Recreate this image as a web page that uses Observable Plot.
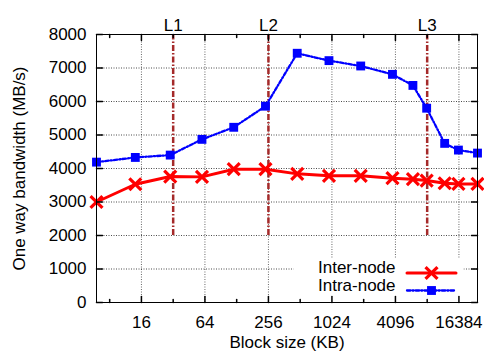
<!DOCTYPE html>
<html><head><meta charset="utf-8">
<script src="https://cdn.jsdelivr.net/npm/d3@7"></script>
<script src="https://cdn.jsdelivr.net/npm/@observablehq/plot@0.6"></script>
<style>html,body{margin:0;padding:0;background:#fff} svg{display:block}</style>
</head><body><div id="chart"></div>
<script>
const blockSizes = [6, 14, 30, 60, 120, 240, 480, 960, 1920, 3840, 6000, 8100, 12000, 16200, 24576];
const interNode  = [3000, 3530, 3760, 3750, 3980, 3980, 3840, 3780, 3780, 3710, 3680, 3640, 3560, 3540, 3540];
const intraNode  = [4190, 4330, 4400, 4870, 5230, 5860, 7440, 7220, 7060, 6810, 6480, 5800, 4750, 4550, 4460];
const xTicks = [16, 64, 256, 1024, 4096, 16384];
const xMinorTicks = [8, 32, 128, 512, 2048, 8192];
const yTicks = [0, 1000, 2000, 3000, 4000, 5000, 6000, 7000, 8000];
const cacheSizes = [32, 256, 8192];
const cacheLabels = ["L1", "L2", "L3"];
const cacheLineFrom = 2000;
const seriesNames = ["Inter-node", "Intra-node"];
const xDomain = [6, 24576];
const yDomain = [0, 8000];

const rows = blockSizes.map((b, i) => ({size: b, inter: interNode[i], intra: intraNode[i]}));

const FONT = "17px";
const red = "#ff0000", blue = "#0000ff", brown = "#a52a2a";
const blueDash = "3.5,2,1.2,2";

const tickShape = {draw(ctx, l) { ctx.moveTo(0, 0); ctx.lineTo(0, -l); }};

const plot = Plot.plot({
  width: 484,
  height: 356,
  marginLeft: 96,
  marginRight: 7,
  marginTop: 34,
  marginBottom: 54,
  style: {fontFamily: "'Liberation Sans', Arial, sans-serif", fontSize: FONT, background: "#fff", color: "#000"},
  x: {type: "log", base: 2, domain: xDomain, axis: null},
  y: {domain: yDomain, axis: null},
  marks: [
    Plot.gridX(xTicks, {stroke: "#000", strokeOpacity: 0.6, strokeDasharray: "1,1.5"}),
    Plot.gridY(yTicks.slice(1, -1), {stroke: "#000", strokeOpacity: 0.7, strokeDasharray: "1,1.5"}),
    Plot.frame({fill: "#fff", stroke: null, insetLeft: 197, insetRight: 14, insetTop: 224}),
    Plot.ruleX(cacheSizes, {x: d => d, y1: cacheLineFrom, y2: yDomain[1], stroke: brown, strokeWidth: 2.5, strokeDasharray: "6,2,1.5,2"}),
    Plot.text(cacheSizes, {x: d => d, text: (d, i) => cacheLabels[i], frameAnchor: "top", dy: -16, fontSize: FONT}),
    Plot.line(rows, {x: "size", y: "inter", stroke: red, strokeWidth: 3}),
    Plot.dot(rows, {x: "size", y: "inter", symbol: "times", r: 5.5, stroke: red, strokeWidth: 3.2}),
    Plot.line(rows, {x: "size", y: "intra", stroke: blue, strokeWidth: 2.3, strokeDasharray: blueDash}),
    Plot.dot(rows, {x: "size", y: "intra", symbol: "square", r: 5, fill: blue, stroke: null}),
    // legend
    Plot.text([seriesNames[0]], {frameAnchor: "bottom-right", dx: -82, dy: -29.5, textAnchor: "end", fontSize: FONT}),
    Plot.text([seriesNames[1]], {frameAnchor: "bottom-right", dx: -82, dy: -12, textAnchor: "end", fontSize: FONT}),
    Plot.vector([0], {frameAnchor: "bottom-right", dx: -46, dy: -29.5, rotate: 90, length: 49, anchor: "middle", shape: tickShape, stroke: red, strokeWidth: 3}),
    Plot.dot([0], {frameAnchor: "bottom-right", dx: -46, dy: -29.5, symbol: "times", r: 5.5, stroke: red, strokeWidth: 3.2}),
    Plot.vector([0], {frameAnchor: "bottom-right", dx: -46, dy: -12, rotate: 90, length: 49, anchor: "middle", shape: tickShape, stroke: blue, strokeWidth: 2.3, strokeDasharray: blueDash}),
    Plot.dot([0], {frameAnchor: "bottom-right", dx: -46, dy: -12, symbol: "square", r: 5, fill: blue, stroke: null}),
    // ticks (inward)
    Plot.vector(xTicks, {x: d => d, frameAnchor: "bottom", length: 6, anchor: "start", shape: tickShape, stroke: "#000"}),
    Plot.vector(xTicks, {x: d => d, frameAnchor: "top", rotate: 180, length: 6, anchor: "start", shape: tickShape, stroke: "#000"}),
    Plot.vector(xMinorTicks, {x: d => d, frameAnchor: "bottom", length: 3, anchor: "start", shape: tickShape, stroke: "#000"}),
    Plot.vector(xMinorTicks, {x: d => d, frameAnchor: "top", rotate: 180, length: 3, anchor: "start", shape: tickShape, stroke: "#000"}),
    Plot.vector(yTicks, {y: d => d, frameAnchor: "left", rotate: 90, length: 6, anchor: "start", shape: tickShape, stroke: "#000"}),
    Plot.vector(yTicks, {y: d => d, frameAnchor: "right", rotate: -90, length: 6, anchor: "start", shape: tickShape, stroke: "#000"}),
    // axes labels
    Plot.axisX(xTicks, {anchor: "bottom", tickSize: 0, tickPadding: 13, tickFormat: d => String(d), label: null, fontSize: FONT}),
    Plot.axisY(yTicks, {anchor: "left", tickSize: 0, tickPadding: 10, tickFormat: d => String(d), label: null, fontSize: FONT}),
    Plot.text(["Block size (KB)"], {frameAnchor: "bottom", dy: 45, fontSize: FONT}),
    Plot.text(["One way bandwidth (MB/s)"], {frameAnchor: "left", dx: -77, rotate: -90, textAnchor: "middle", fontSize: FONT}),
    Plot.frame({stroke: "#000", strokeWidth: 1})
  ]
});
document.getElementById("chart").appendChild(plot);
</script>
</body></html>
